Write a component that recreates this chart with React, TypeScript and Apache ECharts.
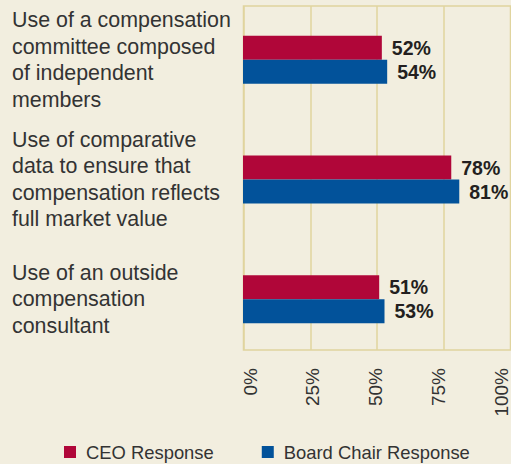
import React, { useEffect, useRef } from "react";
import * as echarts from "echarts";

const categories = [
  "Use of a compensation\ncommittee composed\nof independent\nmembers",
  "Use of comparative\ndata to ensure that\ncompensation reflects\nfull market value",
  "Use of an outside\ncompensation\nconsultant",
];
const ceoValues = [52, 78, 51];
const boardValues = [54, 81, 53];
const tickValues = [0, 25, 50, 75, 100];

const RED = "#b00639";
const BLUE = "#02529a";
const BG = "#f2eedf";
const GRIDC = "#e0d49e";
const FONT = "'Liberation Sans', Arial, Helvetica, sans-serif";

export default function App() {
  const ref = useRef<HTMLDivElement>(null);
  useEffect(() => {
    if (!ref.current) return;
    const chart = echarts.init(ref.current, undefined, { renderer: "svg" });
    chart.setOption({
      animation: false,
      backgroundColor: BG,
      textStyle: { fontFamily: FONT },
      legend: {
        data: ["CEO Response", "Board Chair Response"],
        left: 64,
        top: 443,
        padding: 0,
        itemWidth: 12,
        itemHeight: 12,
        itemGap: 48,
        icon: "rect",
        textStyle: { fontSize: 18.4, color: "#333", fontFamily: FONT, padding: [0, 0, 0, 5] },
      },
      grid: [
        { left: 243.5, width: 267, top: 6, height: 344, show: true, borderColor: GRIDC, borderWidth: 1.5, backgroundColor: "transparent" },
        { left: 243, width: 267, top: -1, height: 360 },
        { left: 250, width: 267, top: 6, height: 344 },
      ],
      xAxis: [
        {
          gridIndex: 0, type: "value", min: 0, max: 100, interval: 25,
          axisLine: { show: false }, axisTick: { show: false }, axisLabel: { show: false },
          splitLine: { show: true, lineStyle: { color: GRIDC, width: 1.5 } },
        },
        {
          gridIndex: 1, type: "value", min: 0, max: 100, show: false,
        },
        {
          gridIndex: 2, type: "value", min: 0, max: 100, interval: 25,
          axisLine: { show: false }, axisTick: { show: false }, splitLine: { show: false },
          axisLabel: {
            rotate: 90, margin: 18, fontSize: 19, color: "#333", fontFamily: FONT,
            formatter: (v: number) => (tickValues.includes(v) ? v + "%" : ""),
          },
        },
      ],
      yAxis: [
        { gridIndex: 0, type: "value", show: false },
        {
          gridIndex: 1, type: "category", data: categories, inverse: true,
          axisLine: { show: false }, axisTick: { show: false }, splitLine: { show: false },
          axisLabel: {
            align: "left", margin: 231, fontSize: 21.4, lineHeight: 26.5, color: "#333", fontFamily: FONT,
          },
        },
        { gridIndex: 2, type: "value", show: false },
      ],
      series: [
        {
          name: "CEO Response", type: "bar", xAxisIndex: 1, yAxisIndex: 1,
          data: ceoValues, barWidth: 24, barGap: "0%",
          itemStyle: { color: RED },
          label: {
            show: true, position: "right", distance: 10, formatter: "{c}%",
            fontSize: 19.5, fontWeight: "bold", color: "#231f20", fontFamily: FONT,
          },
        },
        {
          name: "Board Chair Response", type: "bar", xAxisIndex: 1, yAxisIndex: 1,
          data: boardValues, barWidth: 24, barGap: "0%",
          itemStyle: { color: BLUE },
          label: {
            show: true, position: "right", distance: 10, formatter: "{c}%",
            fontSize: 19.5, fontWeight: "bold", color: "#231f20", fontFamily: FONT,
          },
        },
      ],
    });
    return () => chart.dispose();
  }, []);
  return <div ref={ref} style={{ width: 511, height: 464, position: "absolute", left: 0, top: 0 }} />;
}
